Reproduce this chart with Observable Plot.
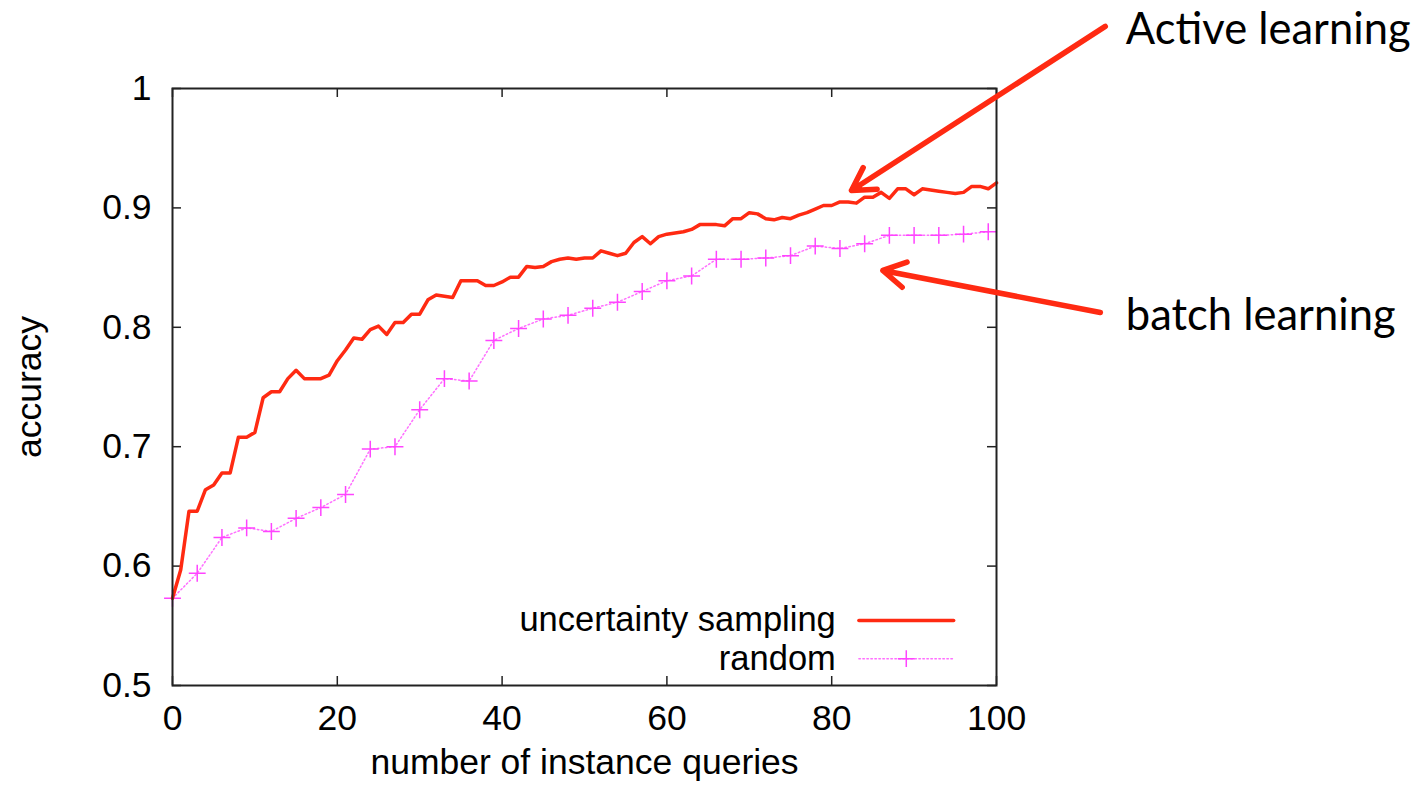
<!DOCTYPE html>
<html>
<head>
<meta charset="utf-8">
<script src="https://cdn.jsdelivr.net/npm/d3@7"></script>
<script src="https://cdn.jsdelivr.net/npm/@observablehq/plot@0.6"></script>
<style>
  html, body { margin: 0; padding: 0; background: #fff; }
  #chart { width: 1422px; height: 791px; }
</style>
</head>
<body>
<div id="chart"></div>
<script>
// ---- data ----
const uncertaintyX = d3.range(0, 101);
const uncertaintyY = [
  0.573, 0.597, 0.646, 0.646, 0.664, 0.668, 0.678, 0.678, 0.708, 0.708,
  0.712, 0.741, 0.746, 0.746, 0.757, 0.764, 0.757, 0.757, 0.757, 0.760,
  0.772, 0.781, 0.791, 0.790, 0.798, 0.801, 0.794, 0.804, 0.804, 0.811,
  0.811, 0.823, 0.827, 0.826, 0.825, 0.839, 0.839, 0.839, 0.835, 0.835,
  0.838, 0.842, 0.842, 0.851, 0.850, 0.851, 0.855, 0.857, 0.858, 0.857,
  0.858, 0.858, 0.864, 0.862, 0.860, 0.862, 0.871, 0.876, 0.870, 0.876,
  0.878, 0.879, 0.880, 0.882, 0.886, 0.886, 0.886, 0.885, 0.891, 0.891,
  0.896, 0.895, 0.891, 0.890, 0.892, 0.891, 0.894, 0.896, 0.899, 0.902,
  0.902, 0.905, 0.905, 0.904, 0.909, 0.909, 0.913, 0.908, 0.916, 0.916,
  0.911, 0.916, 0.915, 0.914, 0.913, 0.912, 0.913, 0.918, 0.918, 0.916,
  0.921
];
const randomX = [0, 3, 6, 9, 12, 15, 18, 21, 24, 27, 30, 33, 36, 39, 42, 45, 48,
  51, 54, 57, 60, 63, 66, 69, 72, 75, 78, 81, 84, 87, 90, 93, 96, 99];
const randomY = [0.573, 0.594, 0.624, 0.632, 0.629, 0.640, 0.649, 0.660, 0.698,
  0.700, 0.731, 0.757, 0.755, 0.789, 0.799, 0.807, 0.810, 0.816, 0.821, 0.830,
  0.839, 0.843, 0.857, 0.857, 0.858, 0.860, 0.868, 0.866, 0.870, 0.877, 0.877,
  0.877, 0.878, 0.880];
const xTicks = [0, 20, 40, 60, 80, 100];
const yTicks = [0.5, 0.6, 0.7, 0.8, 0.9, 1];
const yTickLabels = ["0.5", "0.6", "0.7", "0.8", "0.9", "1"];
const seriesNames = ["uncertainty sampling", "random"];
const xTitle = "number of instance queries";
const yTitle = "accuracy";
// annotation texts and arrows (data units)
const annoLabels = ["Active learning", "batch learning"];
const annoTextX = [115.7, 115.7];
const annoTextY = [1.0486, 0.809];
const annoFromX = [113.2, 112.6];
const annoFromY = [1.052, 0.8124];
const annoToX = [82.4, 86.2];
const annoToY = [0.9146, 0.8476];
// legend placement (data units)
const legendTextX = 80.5;
const legendY = [0.5545, 0.5225];
const legendSampleX = [83.3, 94.8];

// ---- build tables ----
const uncertainty = uncertaintyX.map((x, i) => ({x, y: uncertaintyY[i]}));
const random = randomX.map((x, i) => ({x, y: randomY[i]}));
const annos = annoLabels.map((label, i) => ({
  label, tx: annoTextX[i], ty: annoTextY[i],
  x1: annoFromX[i], y1: annoFromY[i], x2: annoToX[i], y2: annoToY[i]
}));
const legend = seriesNames.map((name, i) => ({name, x: legendTextX, y: legendY[i]}));
const legendLine = [
  {x: legendSampleX[0], y: legendY[0]}, {x: legendSampleX[1], y: legendY[0]}
];
const legendLine2 = [
  {x: legendSampleX[0], y: legendY[1]}, {x: legendSampleX[1], y: legendY[1]}
];

const RED = "#ff2a12";
const MAG = "#ff70ff";
const W = 1422, H = 791, ML = 172, MR = 426, MT = 88, MB = 106;
const innerW = W - ML - MR, innerH = H - MT - MB;
const TICK = 9;
const FONT = "'Liberation Sans', Arial, Helvetica, sans-serif";
const FS = 35.5;
const LEG_FS = 34.5;

const chart = Plot.plot({
  width: W, height: H,
  marginLeft: ML, marginRight: MR, marginTop: MT, marginBottom: MB,
  x: {domain: [0, 100]},
  y: {domain: [0.5, 1]},
  style: {fontFamily: FONT, fontSize: FS + "px", background: "white", color: "black", overflow: "visible"},
  marks: [
    // inward ticks on all four sides
    Plot.tickX(xTicks, {x: d => d, stroke: "#222", strokeWidth: 1.5, insetTop: innerH - TICK}),
    Plot.tickX(xTicks, {x: d => d, stroke: "#222", strokeWidth: 1.5, insetBottom: innerH - TICK}),
    Plot.tickY(yTicks, {y: d => d, stroke: "#222", strokeWidth: 1.5, insetRight: innerW - TICK}),
    Plot.tickY(yTicks, {y: d => d, stroke: "#222", strokeWidth: 1.5, insetLeft: innerW - TICK}),
    Plot.axisX(xTicks, {tickSize: 0, tickPadding: 19, label: null, fontSize: FS, tickFormat: d => String(d)}),
    Plot.axisY(yTicks, {tickSize: 0, tickPadding: 21, label: null, fontSize: FS, tickFormat: (d, i) => yTickLabels[i]}),
    Plot.text([xTitle], {frameAnchor: "bottom", dy: 88, fontSize: FS, textAnchor: "middle", text: d => d}),
    Plot.text([yTitle], {frameAnchor: "left", dx: -143, rotate: -90, fontSize: FS, textAnchor: "middle", text: d => d}),
    // random series
    Plot.line(random, {x: "x", y: "y", stroke: MAG, strokeWidth: 1.5, strokeDasharray: "1.5,2.5"}),
    Plot.dot(random, {x: "x", y: "y", symbol: "plus", r: 5.5, stroke: "#ff44ff", strokeWidth: 1.5}),
    // uncertainty sampling
    Plot.line(uncertainty, {x: "x", y: "y", stroke: RED, strokeWidth: 3.5, strokeLinejoin: "round"}),
    // legend
    Plot.text(legend, {x: "x", y: "y", text: "name", textAnchor: "end", fontSize: LEG_FS}),
    Plot.line(legendLine, {x: "x", y: "y", stroke: RED, strokeWidth: 3.5}),
    Plot.line(legendLine2, {x: "x", y: "y", stroke: MAG, strokeWidth: 1.5, strokeDasharray: "1.5,2.5"}),
    Plot.dot([{x: (legendSampleX[0] + legendSampleX[1]) / 2, y: legendY[1]}], {x: "x", y: "y", symbol: "plus", r: 5.5, stroke: "#ff44ff", strokeWidth: 1.5}),
    Plot.frame({stroke: "#222", strokeWidth: 2}),
    // annotations
    Plot.arrow(annos, {x1: "x1", y1: "y1", x2: "x2", y2: "y2", stroke: RED, strokeWidth: 5.5, headLength: 7, headAngle: 60}),
    Plot.text(annos, {x: "tx", y: "ty", text: "label", textAnchor: "start", fontSize: 43.5, fontFamily: "Lato, 'Open Sans', sans-serif", fill: "black"})
  ]
});
document.getElementById("chart").appendChild(chart);
</script>
</body>
</html>
